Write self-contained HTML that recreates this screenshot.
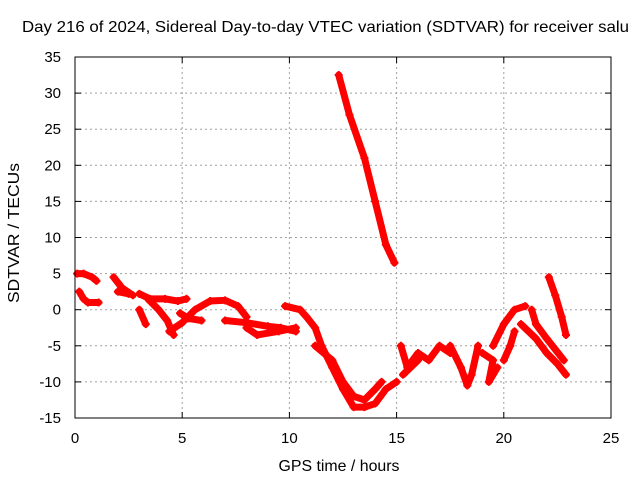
<!DOCTYPE html>
<html><head><meta charset="utf-8"><style>
body{margin:0;background:#fff;}
svg{display:block;font-family:"Liberation Sans",sans-serif;}
</style></head><body>
<svg id="chart" width="640" height="480">
<text x="22" y="32" font-size="16" textLength="607" lengthAdjust="spacingAndGlyphs">Day 216 of 2024, Sidereal Day-to-day VTEC variation (SDTVAR) for receiver salu</text>
<text x="339" y="471" font-size="16" text-anchor="middle" textLength="121" lengthAdjust="spacingAndGlyphs">GPS time / hours</text>
<text transform="translate(19,233) rotate(-90)" font-size="16" text-anchor="middle" textLength="140" lengthAdjust="spacingAndGlyphs">SDTVAR / TECUs</text>
<g id="grid"></g><g id="marks"></g>
<rect x="75" y="57" width="536" height="361" fill="none" stroke="#000" stroke-width="1"/>
</svg>
<script>
const xTicks=[0,5,10,15,20,25];
const yTicks=[-15,-10,-5,0,5,10,15,20,25,30,35];
const track1=[[0.1,5],[0.4,5],[0.8,4.5],[1.0,4]];
const track2=[[0.2,2.5],[0.4,1.5],[0.6,1],[1.1,1]];
const track3=[[1.8,4.5],[2.2,3],[2.7,2]];
const track4=[[2.0,2.5],[2.5,2.2]];
const track5=[[3.0,2.2],[3.5,1.5],[4.2,1.5],[4.8,1.2],[5.2,1.5]];
const track6=[[3.0,0],[3.3,-2]];
const track7=[[3.4,1.5],[3.9,0],[4.3,-1.5],[4.6,-3.5]];
const track8=[[4.4,-3],[5.0,-1.8],[5.6,0],[6.3,1.2],[7.0,1.3],[7.6,0.5],[8.0,-1]];
const track9=[[4.9,-0.5],[5.3,-1.2],[5.9,-1.5]];
const track10=[[7.0,-1.5],[8.0,-1.8],[9.0,-2.3],[9.6,-2.5],[10.3,-3]];
const track11=[[8.0,-2.5],[8.5,-3.5],[9.5,-3],[10.3,-2.5]];
const track12=[[9.8,0.5],[10.5,0],[10.8,-1],[11.2,-2.5],[11.5,-5],[12.0,-8],[12.5,-11],[13.0,-13.5],[13.5,-13.5],[14.0,-13],[14.5,-11],[15.0,-10]];
const track13=[[11.2,-5],[12.0,-7],[12.5,-10],[13.0,-12],[13.5,-12.5],[14.0,-11],[14.3,-10]];
const track14=[[12.3,32.5],[12.8,27],[13.5,21],[14.0,15],[14.5,9],[14.9,6.5]];
const track15=[[15.2,-5],[15.5,-8],[16.0,-6],[16.5,-7],[17.0,-5],[17.5,-6]];
const track16=[[15.3,-9],[16.0,-7]];
const track17=[[17.5,-5],[18.0,-8],[18.3,-10.5],[18.5,-9],[18.8,-5]];
const track18=[[19.0,-6],[19.5,-7],[19.3,-10],[19.7,-8]];
const track19=[[19.5,-5],[20.0,-2],[20.5,0],[21.0,0.5]];
const track20=[[20.0,-7],[20.3,-5],[20.5,-3]];
const track21=[[20.8,-2],[21.5,-4],[22.0,-6],[22.5,-7.5],[22.9,-9]];
const track22=[[21.3,0],[21.5,-2],[22.0,-4],[22.8,-7]];
const track23=[[22.1,4.5],[22.4,2],[22.7,-1],[22.9,-3.5]];
const tracks=[track1,track2,track3,track4,track5,track6,track7,track8,track9,track10,track11,track12,track13,track14,track15,track16,track17,track18,track19,track20,track21,track22,track23];
const NS='http://www.w3.org/2000/svg';
const X=t=>75+t*536/25, Y=v=>418-(v+15)*361/50;
const grid=document.getElementById('grid'), marks=document.getElementById('marks');
function mk(tag,attrs,parent){const e=document.createElementNS(NS,tag);for(const k in attrs)e.setAttribute(k,attrs[k]);parent.appendChild(e);return e;}
xTicks.forEach(t=>{
  const x=X(t);
  if(t>0&&t<25){const g=mk('line',{x1:x,x2:x,y1:57,y2:418,stroke:'#a0a0a0','stroke-dasharray':'2,3'},grid);
  
  }
  mk('line',{x1:x,x2:x,y1:418,y2:412,stroke:'#000'},grid);
  mk('line',{x1:x,x2:x,y1:57,y2:63,stroke:'#000'},grid);
  const l=mk('text',{x:x,y:443,'font-size':15,'text-anchor':'middle'},grid);
  l.textContent=t;
  
  
});
yTicks.forEach(v=>{
  const y=Y(v);
  if(v>-15&&v<35){const g=mk('line',{x1:75,x2:611,y1:y,y2:y,stroke:'#a0a0a0','stroke-dasharray':'2,3'},grid);
  
  }
  mk('line',{x1:75,x2:81,y1:y,y2:y,stroke:'#000'},grid);
  mk('line',{x1:605,x2:611,y1:y,y2:y,stroke:'#000'},grid);
  const l=mk('text',{x:61,y:y+5,'font-size':15,'text-anchor':'end'},grid);
  l.textContent=v;
  
  
});
tracks.forEach(tr=>{
  const p=mk('polyline',{points:tr.map(d=>X(d[0])+','+Y(d[1])).join(' '),fill:'none',stroke:'#f00','stroke-width':7,'stroke-linejoin':'round','stroke-linecap':'round'},marks);
  
  
  tr.forEach(d=>{
    const x=X(d[0]),y=Y(d[1]);
    const m=mk('path',{d:`M${x-4},${y}H${x+4}M${x},${y-4}V${y+4}`,stroke:'#f00','stroke-width':2},marks);
    
    
  });
});
</script>
</body></html>
